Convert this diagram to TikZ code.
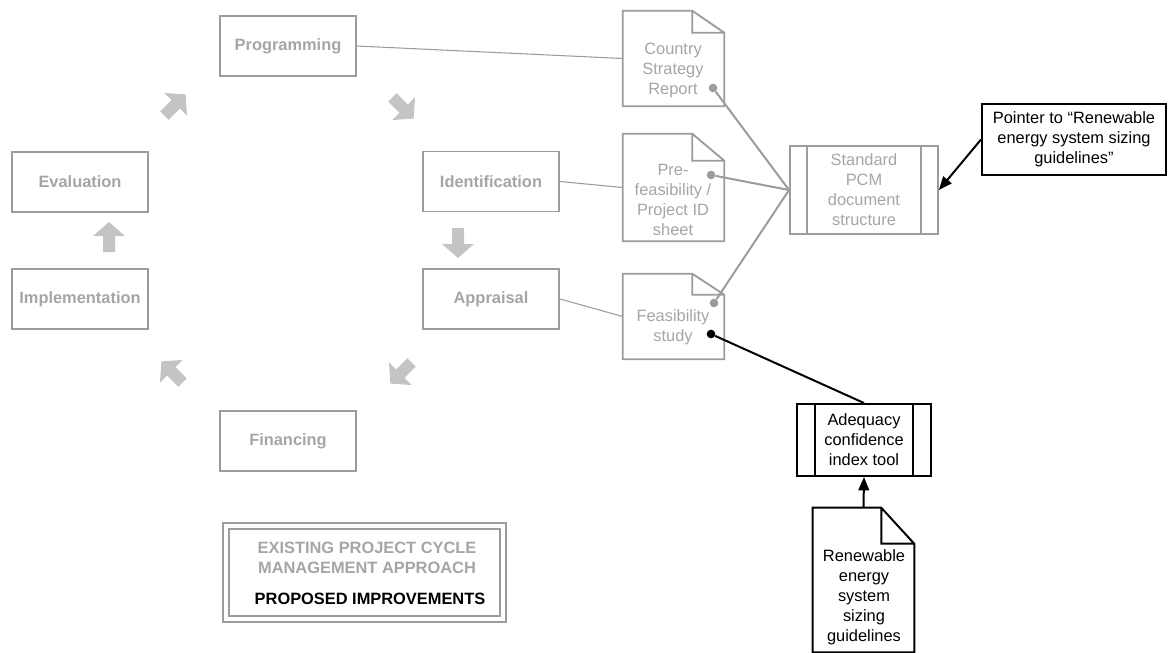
\documentclass[tikz,border=0pt]{standalone}
\usepackage{fontspec}
\setmainfont{Liberation Sans}
\usetikzlibrary{arrows.meta}
\definecolor{pcmline}{HTML}{9C9C9C}
\definecolor{pcmtext}{HTML}{A5A5A5}
\definecolor{pcmarrow}{HTML}{C4C4C4}
\newcommand{\pcmfont}{\fontsize{12.3}{15}\selectfont}
% grey block arrow of the cycle: x, y, angle
\newcommand{\blockarrow}[3]{%
  \fill[pcmarrow,shift={(#1,#2)},rotate=#3] (0,-15) -- (16,-1) -- (6,-1) -- (6,15)
    -- (-6,15) -- (-6,-1) -- (-16,-1) -- cycle;}
% document outline with folded corner: node, fold width, fold height, style
\newcommand{\docframe}[4]{%
  \draw[#4] (#1.north west) -- ([xshift=-#2]#1.north east) -- ([yshift=-#3]#1.north east)
    -- (#1.south east) -- (#1.south west) -- cycle
    ([xshift=-#2]#1.north east) |- ([yshift=-#3]#1.north east);}
% side bars of a process box: node, inset, style
\newcommand{\procbars}[3]{%
  \draw[#3] ([xshift=#2]#1.north west) -- ([xshift=#2]#1.south west)
    ([xshift=-#2]#1.north east) -- ([xshift=-#2]#1.south east);}

\begin{document}
\begin{tikzpicture}[x=0.75pt,y=-0.75pt,font=\pcmfont,
	stage/.style={draw=pcmline,line width=1.4pt,text=pcmtext,font=\pcmfont\bfseries,
		minimum width=102pt,minimum height=45pt,inner sep=0pt},
	docbox/.style={minimum width=75.75pt,inner sep=0pt},
	doctext/.style={align=center,text=pcmtext,inner sep=0pt},
	docdot/.style={circle,fill=pcmline,inner sep=0pt,minimum size=6.5pt},
	link/.style={draw=pcmline,line width=0.8pt},
	feed/.style={draw=pcmline,line width=1.5pt},
	procbox/.style={align=center,inner sep=0pt},
	newline/.style={draw=black,line width=1.5pt}]
	\useasboundingbox (0,0) rectangle (1168,653);
%	\draw[very thin,densely dashed] (0,0) grid[step=50] (1168,653);
	% project cycle
	\node[stage] (prog) at (288,46) {Programming};
	\node[stage] (ident) at (491,181.5) {Identification};
	\node[stage] (appr) at (491,299) {Appraisal};
	\node[stage] (fin) at (288,441) {Financing};
	\node[stage] (impl) at (80,299) {Implementation};
	\node[stage] (eval) at (80,182) {Evaluation};
	\blockarrow{175}{105}{-45}
	\blockarrow{403}{108}{-135}
	\blockarrow{458}{243}{180}
	\blockarrow{401}{373}{135}
	\blockarrow{172}{372}{45}
	\blockarrow{109}{237}{0}
	% documents
	\node[docbox,minimum height=71.25pt] (csr) at (673.5,58.5) {};
	\docframe{csr}{24pt}{16.5pt}{pcmline,line width=1.4pt}
	\node[doctext] (csrtext) at (673,70) {Country\\Strategy\\Report};
	\node[docbox,minimum height=80.25pt] (pre) at (673.5,187.5) {};
	\docframe{pre}{24pt}{20.25pt}{pcmline,line width=1.4pt}
	\node[doctext] (pretext) at (673,200) {Pre-\\feasibility /\\Project ID\\sheet};
	\node[docbox,minimum height=63.75pt] (feas) at (673.5,316.5) {};
	\docframe{feas}{24pt}{15.75pt}{pcmline,line width=1.4pt}
	\node[doctext] (feastext) at (673,327) {Feasibility\\study};
	\node[docdot] (csrdot) at (713,88) {};
	\node[docdot] (predot) at (711,175) {};
	\node[docdot] (feasdot) at (714,303) {};
	\node[docdot,fill=black] (tooldot) at (711,334) {};
	\draw[link] (prog.east) -- (csr.west);
	\draw[link] (ident.east) -- (pre.west);
	\draw[link] (appr.east) -- (feas.west);
	% standard structure
	\node[procbox,draw=pcmline,line width=1.4pt,text=pcmtext,minimum width=111pt,minimum height=66pt]
		(pcm) at (864,190) {Standard\\PCM\\document\\structure};
	\procbars{pcm}{13.5pt}{pcmline,line width=1.4pt}
	\draw[feed] (csrdot) -- (pcm.west);
	\draw[feed] (predot) -- (pcm.west);
	\draw[feed] (feasdot) -- (pcm.west);
	% improvements
	\node[procbox,newline,minimum width=138pt,minimum height=53.25pt]
		(pointer) at (1074,139.5) {Pointer to “Renewable\\energy system sizing\\guidelines”};
	\node[procbox,newline,minimum width=100.5pt,minimum height=54pt]
		(aci) at (864,440) {Adequacy\\confidence\\index tool};
	\procbars{aci}{14pt}{black,line width=1.5pt}
	\node[docbox,minimum height=108pt] (resg) at (863.5,580) {};
	\docframe{resg}{24.75pt}{27pt}{black,line width=1.5pt}
	\node[doctext,text=black] (resgtext) at (864,597.5) {Renewable\\energy\\system\\sizing\\guidelines};
	\draw[newline,-{Triangle[length=10pt,width=8pt]}] (pointer.west) -- (pcm.east);
	\draw[newline] (tooldot) -- (aci.north);
	\draw[newline,-{Triangle[length=10pt,width=8pt]}] (resg.north) -- (aci.south);
	% legend
	\node[draw=pcmline,line width=1.1pt,double,double distance=3.4pt,minimum width=208pt,
		minimum height=69.75pt,inner sep=0pt] (legend) at (364.5,572.5) {};
	\node[font=\pcmfont\bfseries,text=pcmtext,align=center] (legold) at (367,558)
		{EXISTING PROJECT CYCLE\\MANAGEMENT APPROACH};
	\node[font=\pcmfont\bfseries] (legnew) at (370,599) {PROPOSED IMPROVEMENTS};
\end{tikzpicture}
\end{document}
